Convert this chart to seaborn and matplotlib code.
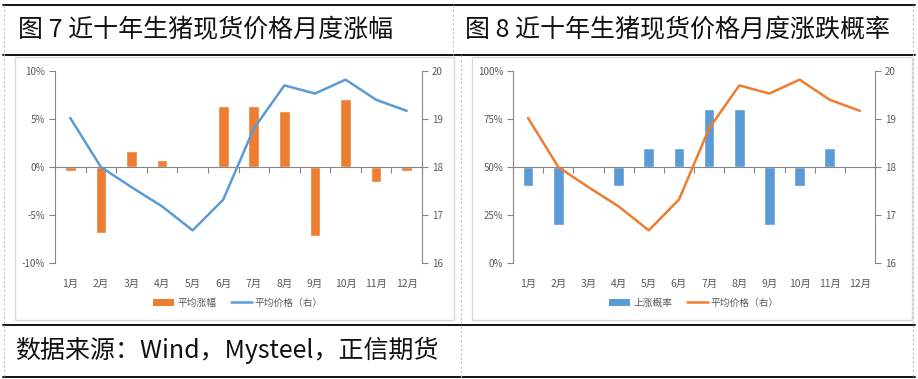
import numpy as np
import pandas as pd
import matplotlib.pyplot as plt
import seaborn as sns
from matplotlib.patches import Rectangle, Patch
from matplotlib.lines import Line2D
from matplotlib.ticker import FuncFormatter

# values
months = ["1月", "2月", "3月", "4月", "5月", "6月", "7月", "8月", "9月", "10月", "11月", "12月"]
avg_change = [-0.4, -6.9, 1.7, 0.7, 0.1, 6.4, 6.4, 5.8, -7.2, 7.1, -1.6, -0.4]   # %
up_prob = [40, 20, 50, 40, 60, 60, 80, 80, 20, 40, 60, 50]                        # %
avg_price = [19.02, 18.0, 17.58, 17.18, 16.68, 17.32, 18.8, 19.7, 19.53, 19.82, 19.4, 19.17]

title_left = "图 7 近十年生猪现货价格月度涨幅"
title_right = "图 8 近十年生猪现货价格月度涨跌概率"
source = "数据来源：Wind，Mysteel，正信期货"

ORANGE = "#ED7D31"
BLUE = "#5B9BD5"
GRAY = "#868686"
TXT = "#595959"

sns.set_style("white")
plt.rcParams["font.family"] = ["Noto Sans CJK SC", "DejaVu Sans"]
plt.rcParams["axes.unicode_minus"] = False

W, H = 918, 379
fig = plt.figure(figsize=(W / 100, H / 100), dpi=100)


def px_rect(x0, y0, x1, y1):
    # pixel box (top-left origin) -> figure fraction rect
    return [x0 / W, 1 - y1 / H, (x1 - x0) / W, (y1 - y0) / H]


def hline(y, x0=3, x1=915, **kw):
    fig.add_artist(Line2D([x0 / W, x1 / W], [1 - y / H, 1 - y / H], transform=fig.transFigure, **kw))


def vline(x, y0, y1, **kw):
    fig.add_artist(Line2D([x / W, x / W], [1 - y0 / H, 1 - y1 / H], transform=fig.transFigure, **kw))


def draw_panel(rect, bar_vals, base, ylim, yticks, bar_color, line_color, bar_label, legend_xy):
    df = pd.DataFrame({"month": months, "val": bar_vals, "price": avg_price, "pos": np.arange(12)})
    df["height"] = df["val"] - base

    ax = fig.add_axes(rect)
    sns.barplot(data=df, x="month", y="height", color=bar_color, saturation=1,
                width=0.35, errorbar=None, bottom=base, ax=ax, zorder=2)
    ax.set_ylim(*ylim)
    ax.set_yticks(yticks)
    ax.yaxis.set_major_formatter(FuncFormatter(lambda v, p: f"{v:.0f}%"))
    ax.set_xlim(-0.5, 11.5)
    ax.set_xlabel("")
    ax.set_ylabel("")
    for s in ["top", "right", "bottom"]:
        ax.spines[s].set_visible(False)
    ax.spines["left"].set_color(GRAY)
    ax.spines["left"].set_linewidth(0.8)
    ax.tick_params(axis="y", left=True, direction="out", length=4, width=0.8,
                   color=GRAY, labelcolor=TXT, labelsize=7, pad=3)
    ax.tick_params(axis="x", bottom=False, labelcolor=TXT, labelsize=7.5, pad=8)
    ax.axhline(base, color=GRAY, lw=0.8, zorder=3)

    # category boundary ticks on the baseline
    sec = ax.secondary_xaxis(0.5)
    sec.set_xticks(np.arange(-0.5, 12, 1))
    sec.tick_params(axis="x", direction="in", length=4, width=0.8, color=GRAY,
                    labeltop=False, labelbottom=False)
    for s in sec.spines.values():
        s.set_visible(False)

    ax2 = ax.twinx()
    sns.lineplot(data=df, x="pos", y="price", color=line_color, linewidth=1.8, ax=ax2)
    ax2.set_ylim(16, 20)
    ax2.set_yticks([16, 17, 18, 19, 20])
    ax2.set_xlim(-0.5, 11.5)
    ax2.set_xlabel("")
    ax2.set_ylabel("")
    for s in ["top", "left", "bottom"]:
        ax2.spines[s].set_visible(False)
    ax2.spines["right"].set_color(GRAY)
    ax2.spines["right"].set_linewidth(0.8)
    ax2.tick_params(axis="y", right=True, direction="out", length=4, width=0.8,
                    color=GRAY, labelcolor=TXT, labelsize=7, pad=3)

    handles = [Patch(facecolor=bar_color, edgecolor="none"),
               Line2D([], [], color=line_color, lw=1.8)]
    fig.legend(handles, [bar_label, "平均价格（右）"], loc="center",
               bbox_to_anchor=legend_xy, ncol=2, frameon=False, fontsize=7,
               labelcolor=TXT, handlelength=2.2, handleheight=0.8,
               columnspacing=1.5, handletextpad=0.3)


# panel frames
for x0, x1 in [(15, 454), (472, 912)]:
    r = px_rect(x0, 57, x1, 320)
    fig.add_artist(Rectangle((r[0], r[1]), r[2], r[3], transform=fig.transFigure,
                             fill=False, edgecolor="#D9D9D9", lw=1))

draw_panel(px_rect(55, 71, 422, 263), avg_change, 0, (-10, 10), [-10, -5, 0, 5, 10],
           ORANGE, BLUE, "平均涨幅", (238 / W, 1 - 303 / H))
draw_panel(px_rect(513, 71, 875, 263), up_prob, 50, (0, 100), [0, 25, 50, 75, 100],
           BLUE, ORANGE, "上涨概率", (694 / W, 1 - 303 / H))

# table grid lines
hline(5, color="black", lw=1.3)
hline(55, color="black", lw=1.3)
hline(325, color="black", lw=1.3)
hline(377, color="black", lw=1.3)
for x in [4, 913]:
    vline(x, 5, 377, color="#BFBFBF", lw=0.8, ls=(0, (2, 2)))
vline(453, 5, 55, color="#BFBFBF", lw=0.8, ls=(0, (2, 2)))
vline(461, 55, 377, color="#BFBFBF", lw=0.8, ls=(0, (2, 2)))

fig.text(18 / W, 1 - 30 / H, title_left, fontsize=18, va="center", ha="left", color="#111111")
fig.text(465 / W, 1 - 30 / H, title_right, fontsize=18, va="center", ha="left", color="#111111")
fig.text(15 / W, 1 - 350 / H, source, fontsize=18, va="center", ha="left", color="#111111")

fig.savefig("out.png", dpi=100)
